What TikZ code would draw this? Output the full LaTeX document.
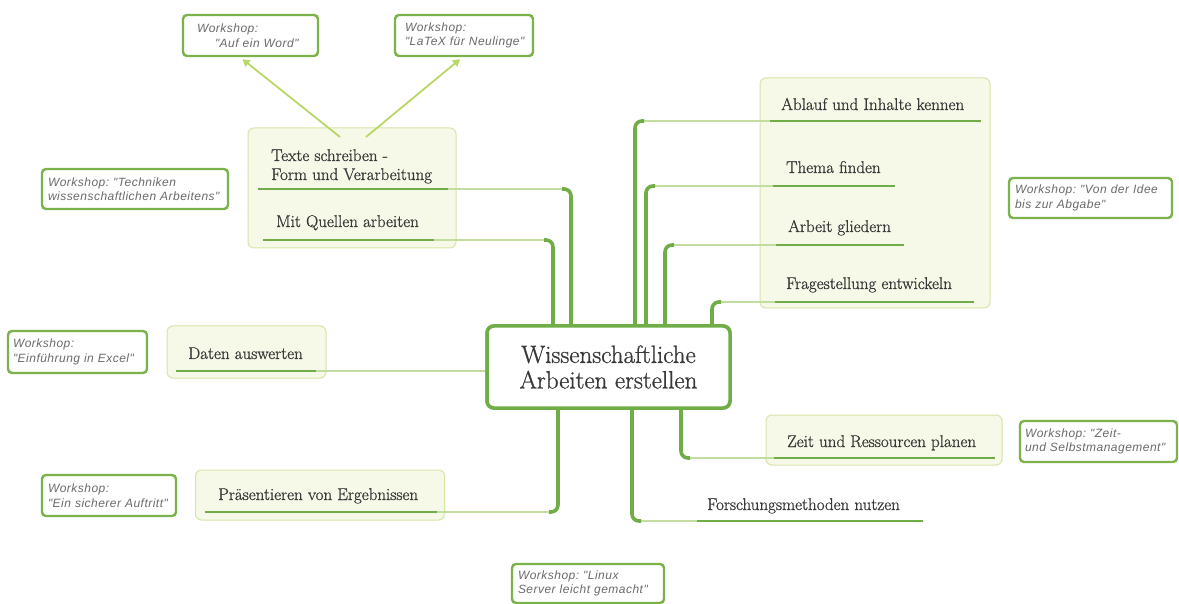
\documentclass[tikz,border=0pt]{standalone}
\usepackage{fontspec}
\newfontfamily\wsfont[LetterSpace=4]{Liberation Sans}
\newfontfamily\lblfont[FakeBold=0.9]{Latin Modern Roman}
\usetikzlibrary{calc,arrows.meta}
\definecolor{dg}{HTML}{70AD47}
\definecolor{tw}{HTML}{C3DCA0}
\definecolor{gfill}{HTML}{F6F9E8}
\definecolor{gdraw}{HTML}{D6E6A8}
\definecolor{wsdraw}{HTML}{7CB24A}
\definecolor{wstext}{HTML}{6A6A6A}
\definecolor{arrc}{HTML}{B9D764}
\definecolor{txt}{HTML}{383838}
\tikzset{
  ws/.style={draw=wsdraw, line width=2.4pt, rounded corners=4pt, fill=white,
    inner xsep=7pt, inner ysep=0pt, align=left,
    font=\frenchspacing\wsfont\itshape\fontsize{12}{14.5}\selectfont, text=wstext},
  grp/.style={draw=gdraw, line width=1pt, fill=gfill, rounded corners=6pt, inner sep=0pt},
  lbl/.style={inner sep=0pt, text=txt, font=\lblfont\fontsize{17}{19}\selectfont},
  central/.style={draw=dg, line width=3.5pt, rounded corners=7pt, fill=white,
    minimum width=243pt, minimum height=82pt, align=center, text=txt,
    font=\lblfont\fontsize{25}{25.5}\selectfont},
  uline/.style={draw=dg, line width=2.8pt},
  trunk/.style={draw=dg, line width=3.6pt, rounded corners=7pt},
  twig/.style={draw=tw, line width=1.4pt},
  arr/.style={draw=arrc, line width=1.8pt, -{Triangle[width=8pt,length=7pt]}},
}
\begin{document}
\begin{tikzpicture}[x=1pt,y=-1pt]
\useasboundingbox (0,0) rectangle (1179,604);

% light group boxes
\node[grp, minimum width=208pt, minimum height=120pt] (gtexte) at (352,188) {};
\node[grp, minimum width=230pt, minimum height=230pt] (gright) at (875,193) {};
\node[grp, minimum width=159pt, minimum height=52pt] (gdaten) at (246.5,352) {};
\node[grp, minimum width=249pt, minimum height=50pt] (gpraes) at (320,495) {};
\node[grp, minimum width=236pt, minimum height=50pt] (gzeit) at (884,440) {};

% central
\node[central] (c) at (608.5,367) {Wissenschaftliche\\Arbeiten erstellen};

% labels
\node[lbl, anchor=north west, align=left] (ltexte) at (271,149) {Texte schreiben -\\Form und Verarbeitung};
\node[lbl, anchor=base west] (lquellen) at (276,227) {Mit Quellen arbeiten};
\node[lbl, anchor=base west] (ldaten) at (188,359) {Daten auswerten};
\node[lbl, anchor=base west] (lpraes) at (218,500) {Präsentieren von Ergebnissen};
\node[lbl, anchor=base west] (lablauf) at (781,110) {Ablauf und Inhalte kennen};
\node[lbl, anchor=base west] (lthema) at (786,173) {Thema finden};
\node[lbl, anchor=base west] (larbeit) at (788,232) {Arbeit gliedern};
\node[lbl, anchor=base west] (lfrage) at (786,289) {Fragestellung entwickeln};
\node[lbl, anchor=base west] (lzeit) at (787,447) {Zeit und Ressourcen planen};
\node[lbl, anchor=base west] (lforsch) at (707,510) {Forschungsmethoden nutzen};

% underline end points
\coordinate (utexteA) at (258,189);  \coordinate (utexteB) at (448,189);
\coordinate (uquelA) at (263,240);   \coordinate (uquelB) at (434,240);
\coordinate (udatA) at (176,371);    \coordinate (udatB) at (316,371);
\coordinate (upraesA) at (205,512);  \coordinate (upraesB) at (437,512);
\coordinate (uablA) at (770,121);    \coordinate (uablB) at (981,121);
\coordinate (uthemA) at (773,186);   \coordinate (uthemB) at (895,186);
\coordinate (uarbA) at (776,245);    \coordinate (uarbB) at (904,245);
\coordinate (ufragA) at (775,302);   \coordinate (ufragB) at (974,302);
\coordinate (uzeitA) at (774,458);   \coordinate (uzeitB) at (995,458);
\coordinate (uforA) at (697,521);    \coordinate (uforB) at (923,521);

% branch corner points
\coordinate (ktexte) at (571,189);
\coordinate (kquel) at (553,240);
\coordinate (kabl) at (635,121);
\coordinate (kthem) at (646,186);
\coordinate (karb) at (665,245);
\coordinate (kfrag) at (712,302);
\coordinate (kpraes) at (558,512);
\coordinate (kfor) at (632,521);
\coordinate (kzeit) at (681,458);

% twigs (thin light connectors)
\draw[twig] ($(ktexte)+(-8,0)$) -- (utexteB);
\draw[twig] ($(kquel)+(-8,0)$) -- (uquelB);
\draw[twig] ($(kabl)+(8,0)$) -- (uablA);
\draw[twig] ($(kthem)+(8,0)$) -- (uthemA);
\draw[twig] ($(karb)+(8,0)$) -- (uarbA);
\draw[twig] ($(kfrag)+(8,0)$) -- (ufragA);
\draw[twig] ($(kpraes)+(-8,0)$) -- (upraesB);
\draw[twig] ($(kfor)+(8,0)$) -- (uforA);
\draw[twig] ($(kzeit)+(8,0)$) -- (uzeitA);
\draw[twig] (udatB) -- (c.west |- udatB);

% trunks
\draw[trunk] (c.north -| ktexte) |- ($(ktexte)+(-9,0)$);
\draw[trunk] (c.north -| kquel) |- ($(kquel)+(-9,0)$);
\draw[trunk] (c.north -| kabl) |- ($(kabl)+(9,0)$);
\draw[trunk] (c.north -| kthem) |- ($(kthem)+(9,0)$);
\draw[trunk] (c.north -| karb) |- ($(karb)+(9,0)$);
\draw[trunk] (c.north -| kfrag) |- ($(kfrag)+(9,0)$);
\draw[trunk] (c.south -| kpraes) |- ($(kpraes)+(-9,0)$);
\draw[trunk] (c.south -| kfor) |- ($(kfor)+(9,0)$);
\draw[trunk] (c.south -| kzeit) |- ($(kzeit)+(9,0)$);

% underlines
\foreach \a/\b in {utexteA/utexteB,uquelA/uquelB,udatA/udatB,upraesA/upraesB,uablA/uablB,uthemA/uthemB,uarbA/uarbB,ufragA/ufragB,uzeitA/uzeitB,uforA/uforB}
  \draw[uline] (\a) -- (\b);

% redraw central on top
\node[central] at (c) {Wissenschaftliche\\Arbeiten erstellen};

% workshop boxes
\node[ws, minimum width=135pt, minimum height=41pt, text width=107pt, inner xsep=14pt] (wword) at (250.5,35.5) {\mbox{Workshop:}\\\mbox{\hspace*{18pt}"Auf ein Word"}};
\node[ws, minimum width=138pt, minimum height=41pt, text width=118pt, inner xsep=10pt] (wlatex) at (464,35.5) {\mbox{Workshop:}\\\mbox{"LaTeX für Neulinge"}};
\node[ws, minimum width=186pt, minimum height=40pt, text width=174pt, inner xsep=6pt] (wtech) at (135,189) {\mbox{Workshop: "Techniken}\\\mbox{wissenschaftlichen Arbeitens"}};
\node[ws, minimum width=139pt, minimum height=42pt, text width=129pt, inner xsep=5pt] (wexcel) at (77.5,352) {\mbox{Workshop:}\\\mbox{"Einführung in Excel"}};
\node[ws, minimum width=134pt, minimum height=41pt, text width=122pt, inner xsep=6pt] (wauft) at (109,495.5) {\mbox{Workshop:}\\\mbox{"Ein sicherer Auftritt"}};
\node[ws, minimum width=163pt, minimum height=40pt, text width=151pt, inner xsep=6pt] (widee) at (1090.5,198) {\mbox{Workshop: "Von der Idee}\\\mbox{bis zur Abgabe"}};
\node[ws, minimum width=157pt, minimum height=41pt, text width=147pt, inner xsep=5pt] (wzeit) at (1098.5,441.5) {\mbox{Workshop: "Zeit-}\\\mbox{und Selbstmanagement"}};
\node[ws, minimum width=152pt, minimum height=39pt, text width=140pt, inner xsep=6pt] (wlinux) at (588,583.5) {\mbox{Workshop: "Linux}\\\mbox{Server leicht gemacht"}};

% arrows
\coordinate (atl) at (340,137);
\coordinate (atr) at (366,137);
\draw[arr] (atl) -- ($(wword.south)+(-8,2)$);
\draw[arr] (atr) -- ($(wlatex.south)+(-4,2)$);
\end{tikzpicture}
\end{document}
